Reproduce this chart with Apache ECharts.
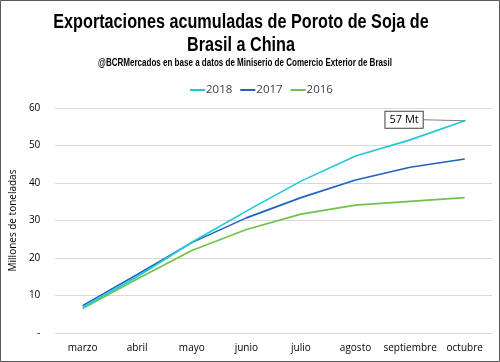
<!DOCTYPE html>
<html><head><meta charset="utf-8">
<script src="https://cdn.jsdelivr.net/npm/echarts@6/dist/echarts.min.js"></script>
<style>html,body{margin:0;padding:0;background:#fff}#c{width:500px;height:362px}</style>
</head><body><div id="c"></div>
<script>
const categories = ['marzo','abril','mayo','junio','julio','agosto','septiembre','octubre'];
const s2018 = [6.8, 15.0, 24.2, 32.5, 40.5, 47.2, 51.5, 56.6];
const s2017 = [7.3, 15.6, 24.1, 30.7, 36.1, 40.8, 44.2, 46.4];
const s2016 = [6.5, 14.4, 22.0, 27.6, 31.7, 34.1, 35.1, 36.1];
const yTicks = [0, 10, 20, 30, 40, 50, 60];
const titleLines = ['Exportaciones acumuladas de Poroto de Soja de', 'Brasil a China'];
const subtitle = '@BCRMercados en base a datos de Miniserio de Comercio Exterior de Brasil';
const endLabel = '57 Mt';

const chart = echarts.init(document.getElementById('c'));
const lblFont = '"Open Sans", "Noto Sans", sans-serif';
const titleFont = '"Liberation Sans", Arial, sans-serif';
function mk(name, data, color, z) {
  return {
    name, type: 'line', showSymbol: true, symbol: 'none',
    data: data.map((v, i) => {
      if (name === '2018' && i === data.length - 1) {
        return {
          value: v, symbol: 'circle', symbolSize: 2,
          label: {
            show: true, formatter: endLabel, position: 'left',
            color: '#000', fontSize: 11, fontFamily: lblFont,
            backgroundColor: '#fff', borderColor: '#404040', borderWidth: 1,
            padding: [3, 4, 2, 4]
          },
          labelLine: { show: true, lineStyle: { color: '#7f7f7f', width: 1 } }
        };
      }
      return v;
    }),
    labelLayout: (p) => p.dataIndex === 7 ? { dx: -36, dy: -1 } : {},
    lineStyle: { color, width: 1.6 }, itemStyle: { color }, z
  };
}
chart.setOption({
  animation: false,
  legend: {
    top: 79, left: 185, itemWidth: 15, itemHeight: 2, itemGap: 8,
    data: ['2018', '2017', '2016'], icon: 'rect',
    textStyle: { fontFamily: lblFont, fontSize: 11.5, color: '#404040', padding: [0, 0, 0, -4] }
  },
  grid: { left: 50, right: 8, top: 108, bottom: 29 },
  xAxis: {
    type: 'category', data: categories, boundaryGap: true,
    axisLine: { show: false }, axisTick: { show: false },
    axisLabel: { interval: 0, fontFamily: lblFont, fontSize: 10, color: '#000', margin: 10 }
  },
  yAxis: {
    type: 'value', min: 0, max: 60, interval: 10,
    name: 'Millones de toneladas', nameLocation: 'middle', nameGap: 31,
    nameTextStyle: { fontFamily: lblFont, fontSize: 10, color: '#000' },
    axisLine: { show: false }, axisTick: { show: false },
    splitLine: { lineStyle: { color: '#d9d9d9', width: 1 } },
    axisLabel: { fontFamily: lblFont, fontSize: 10, color: '#000', margin: 15,
      formatter: v => yTicks.includes(v) ? (v === 0 ? '-' : String(v)) : '' }
  },
  graphic: [
    { type: 'rect', shape: { x: 0.5, y: 0.5, width: 499, height: 361 }, style: { fill: 'none', stroke: '#595959', lineWidth: 1 }, silent: true },
    { type: 'text', x: 241, y: 22, scaleX: 0.81, style: { text: titleLines[0], align: 'center', verticalAlign: 'middle', font: 'bold 20px ' + titleFont, fill: '#000' } },
    { type: 'text', x: 241, y: 45, scaleX: 0.81, style: { text: titleLines[1], align: 'center', verticalAlign: 'middle', font: 'bold 20px ' + titleFont, fill: '#000' } },
    { type: 'text', x: 245, y: 63, scaleX: 0.73, style: { text: subtitle, align: 'center', verticalAlign: 'middle', font: 'bold 11px ' + titleFont, fill: '#000' } }
  ],
  series: [
    mk('2016', s2016, '#70c24a', 1),
    mk('2017', s2017, '#1f63c0', 2),
    mk('2018', s2018, '#1ec8d8', 3)
  ]
});
</script></body></html>
